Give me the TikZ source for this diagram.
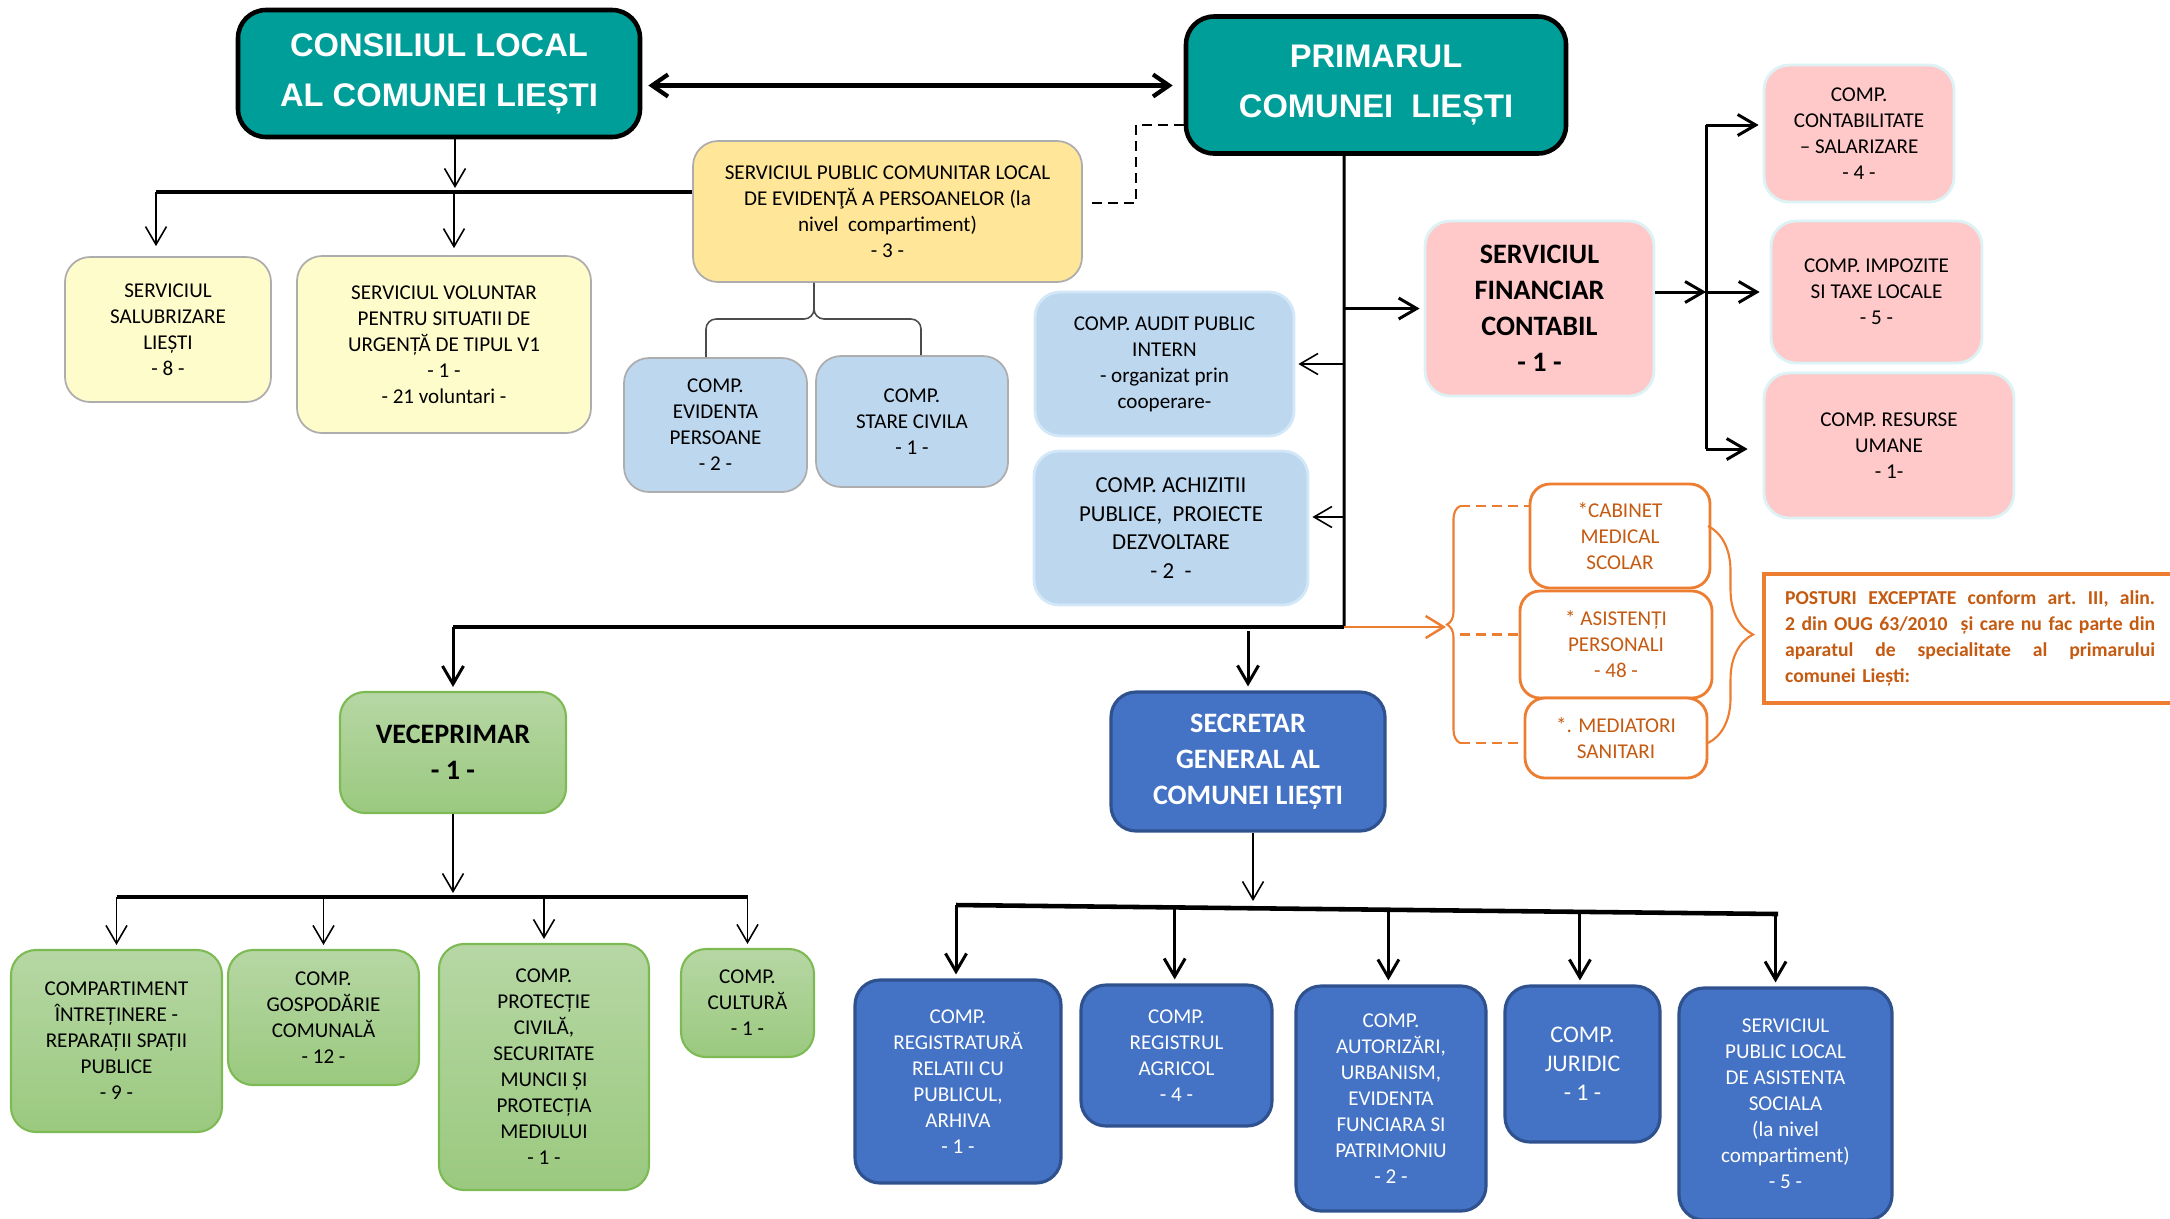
\documentclass[tikz,border=0pt]{standalone}
\usepackage{fontspec}
\setmainfont{Carlito}
\newfontfamily\headfont{Liberation Sans}
\usetikzlibrary{arrows.meta,calc,positioning,decorations.pathreplacing}
\definecolor{tealc}{RGB}{0,158,152}
\definecolor{yelc}{RGB}{255,230,153}
\definecolor{ltyelc}{RGB}{255,252,204}
\definecolor{ltbluec}{RGB}{189,215,238}
\definecolor{ltbluebd}{RGB}{210,232,248}
\definecolor{pinkc}{RGB}{255,201,201}
\definecolor{pinkbd}{RGB}{220,242,244}
\definecolor{orc}{RGB}{237,125,49}
\definecolor{ortext}{RGB}{197,90,17}
\definecolor{grtop}{RGB}{182,215,164}
\definecolor{grbot}{RGB}{155,201,127}
\definecolor{grbd}{RGB}{125,186,84}
\definecolor{bluec}{RGB}{68,114,196}
\definecolor{bluebd}{RGB}{47,82,143}
\definecolor{boxgrey}{gray}{0.68}
\newcommand{\jline}[1]{\makebox[37mm][s]{\spaceskip=.226em plus 1em\relax #1}}

\begin{document}
\begin{tikzpicture}[x=1mm,y=-1mm,font=\fontsize{6}{7.4}\selectfont]

\tikzset{every node/.style={align=center,inner sep=0.5mm},
sz/.style 2 args={minimum width=#1mm,minimum height=#2mm},
titlebox/.style={rounded corners=2.8mm,fill=tealc,draw=black,line width=1.3pt,text=white,font=\headfont\bfseries\fontsize{9.3}{14.2}\selectfont},
yelbox/.style={rounded corners=2.5mm,fill=yelc,draw=boxgrey,line width=0.5pt},
ltyelbox/.style={rounded corners=2.5mm,fill=ltyelc,draw=boxgrey,line width=0.5pt},
bluegrey/.style={rounded corners=2.5mm,fill=ltbluec,draw=boxgrey,line width=0.5pt},
bluepale/.style={rounded corners=2.5mm,fill=ltbluec,draw=ltbluebd,line width=0.8pt},
pinkbox/.style={rounded corners=2.5mm,fill=pinkc,draw=pinkbd,line width=0.8pt},
orbox/.style={rounded corners=2mm,fill=white,draw=orc,line width=0.8pt,text=ortext},
posturi/.style={draw=orc,fill=white,line width=1.2pt,text=ortext,text width=37mm,align=left,inner xsep=2.1mm,minimum height=12.9mm,font=\frenchspacing\bfseries\fontsize{5.6}{7.4}\selectfont},
grbox/.style={rounded corners=2.5mm,top color=grtop,bottom color=grbot,draw=grbd,line width=0.6pt},
bluebox/.style={rounded corners=2.5mm,fill=bluec,draw=bluebd,line width=0.9pt,text=white},
bigtxt/.style={font=\bfseries\fontsize{8}{10.2}\selectfont},
thinline/.style={line width=0.45pt},
midline/.style={line width=0.85pt},
busline/.style={line width=1.3pt},
arr/.style={-{Straight Barb[length=1.8mm,width=2.1mm]},shorten >=0.4mm},
dblarr/.style={{Straight Barb[length=1.6mm,width=2.2mm]}-{Straight Barb[length=1.6mm,width=2.2mm]},line width=1.2pt},
dsh/.style={line width=0.6pt,dash pattern=on 1mm off 0.6mm},
brk/.style={line width=0.45pt,draw=black!70,rounded corners=1mm},
orline/.style={draw=orc,line width=0.6pt},
ordash/.style={draw=orc,line width=0.7pt,dash pattern=on 1mm off 0.6mm},
orarr/.style={draw=orc,line width=0.7pt,-{Straight Barb[length=1.8mm,width=2.2mm]}}}

\useasboundingbox (0,0) rectangle (217,121.8);

% Conducere
\node[titlebox,sz={40.2}{12.7}] (consiliu) at (43.9,7.35) {CONSILIUL LOCAL\\AL COMUNEI LIEȘTI};
\node[titlebox,sz={38}{13.7}] (primar) at (137.6,8.5) {PRIMARUL\\COMUNEI~ LIEȘTI};

% Subordonate consiliului
\node[yelbox,sz={38.9}{14.1}] (spclep) at (88.75,21.15) {SERVICIUL PUBLIC COMUNITAR LOCAL\\DE EVIDENŢĂ A PERSOANELOR (la\\nivel~ compartiment)\\- 3 -};
\node[ltyelbox,sz={20.6}{14.5}] (salub) at (16.8,32.95) {SERVICIUL\\SALUBRIZARE\\LIEȘTI\\- 8 -};
\node[ltyelbox,sz={29.4}{17.7}] (voluntar) at (44.4,34.45) {SERVICIUL VOLUNTAR\\PENTRU SITUATII DE\\URGENȚĂ DE TIPUL V1\\- 1 -\\- 21 voluntari -};
\node[bluegrey,sz={18.3}{13.4}] (evid) at (71.55,42.5) {COMP.\\EVIDENTA\\PERSOANE\\- 2 -};
\node[bluegrey,sz={19.2}{13.1}] (stare) at (91.2,42.15) {COMP.\\STARE CIVILA\\- 1 -};

% Subordonate primarului
\node[bluepale,sz={25.9}{14.4}] (audit) at (116.45,36.4) {COMP. AUDIT PUBLIC\\INTERN\\- organizat prin\\cooperare-};
\node[bluepale,sz={27.4}{15.4},font=\fontsize{6.5}{8.2}\selectfont] (achiz) at (117.1,52.8) {COMP. ACHIZITII\\PUBLICE,~ PROIECTE\\DEZVOLTARE\\- 2~ -};
\node[pinkbox,bigtxt,sz={22.9}{17.5}] (finan) at (153.95,30.85) {SERVICIUL\\FINANCIAR\\CONTABIL\\- 1 -};
\node[pinkbox,sz={19}{13.7}] (contab) at (185.9,13.35) {COMP.\\CONTABILITATE\\– SALARIZARE\\- 4 -};
\node[pinkbox,sz={21.1}{14.2}] (impoz) at (187.65,29.2) {COMP. IMPOZITE\\SI TAXE LOCALE\\- 5 -};
\node[pinkbox,sz={25}{14.5}] (resurse) at (188.9,44.55) {COMP. RESURSE\\UMANE\\- 1-};

% Posturi exceptate
\node[orbox,sz={18}{10.4}] (cabinet) at (162,53.6) {*CABINET\\MEDICAL\\SCOLAR};
\node[orbox,sz={19.2}{10.7}] (asist) at (161.6,64.45) {* ASISTENȚI\\PERSONALI\\- 48 -};
\node[orbox,sz={18.2}{8}] (mediat) at (161.6,73.8) {*. MEDIATORI\\SANITARI};
\node[posturi,anchor=west] (posturi) at (176.2,63.85) {\jline{POSTURI EXCEPTATE conform art. III, alin.}\\\jline{2 din OUG 63/2010~ și care nu fac parte din}\\\jline{aparatul de specialitate al primarului}\\comunei Liești:};

% Viceprimar
\node[grbox,bigtxt,sz={22.6}{12.1}] (vice) at (45.3,75.25) {VECEPRIMAR\\- 1 -};
\node[grbox,sz={21.1}{18.2}] (intret) at (11.65,104.1) {COMPARTIMENT\\ÎNTREȚINERE -\\REPARAȚII SPAȚII\\PUBLICE\\- 9 -};
\node[grbox,sz={19.1}{13.5}] (gosp) at (32.35,101.75) {COMP.\\GOSPODĂRIE\\COMUNALĂ\\- 12 -};
\node[grbox,sz={21}{24.6}] (protectie) at (54.4,106.7) {COMP.\\PROTECȚIE\\CIVILĂ,\\SECURITATE\\MUNCII ȘI\\PROTECȚIA\\MEDIULUI\\- 1 -};
\node[grbox,sz={13.3}{10.8}] (cultura) at (74.75,100.3) {COMP.\\CULTURĂ\\- 1 -};

% Secretar general
\node[bluebox,bigtxt,sz={27.4}{13.9}] (secretar) at (124.8,76.15) {SECRETAR\\GENERAL AL\\COMUNEI LIEȘTI};
\node[bluebox,sz={20.6}{20.3}] (registr) at (95.8,108.15) {COMP.\\REGISTRATURĂ\\RELATII CU\\PUBLICUL,\\ARHIVA\\- 1 -};
\node[bluebox,sz={19.1}{14.1}] (agricol) at (117.65,105.55) {COMP.\\REGISTRUL\\AGRICOL\\- 4 -};
\node[bluebox,sz={19}{22.5}] (autoriz) at (139.1,109.85) {COMP.\\AUTORIZĂRI,\\URBANISM,\\EVIDENTA\\FUNCIARA SI\\PATRIMONIU\\- 2 -};
\node[bluebox,sz={15.5}{15.6},font=\fontsize{6.8}{8.3}\selectfont] (juridic) at (158.25,106.4) {COMP.\\JURIDIC\\- 1 -};
\node[bluebox,sz={21.3}{23.2}] (social) at (178.55,110.4) {SERVICIUL\\PUBLIC LOCAL\\DE ASISTENTA\\SOCIALA\\(la nivel\\compartiment)\\- 5 -};

% Puncte de ramificare
\coordinate (bus1) at (15.6,19.2);
\coordinate (trk) at (134.4,62.7);
\coordinate (bus2) at (45.3,62.7);
\coordinate (bus3) at (45.3,89.7);
\coordinate (bus4l) at (95.6,90.5); \coordinate (bus4r) at (177.8,91.4);
\coordinate (fbar1) at (170.6,12.5); \coordinate (fbar2) at (170.6,44.9);
\coordinate (dshc) at (113.6,20.3);
\coordinate (fork) at (81.4,31.9);
\coordinate (lbt) at (146,50.6); \coordinate (lbb) at (146,74.3);
\coordinate (rbt) at (170.8,52.6); \coordinate (rbb) at (170.8,74.3);
\coordinate (ltip) at (144.6,62.7);

% Legaturi consiliu
\draw[dblarr,shorten <=0.6mm,shorten >=1.1mm] ([yshift=-1.2mm]consiliu.east) -- ([yshift=-1.2mm]consiliu.east -| primar.west);
\draw[arr,thinline] ([xshift=1.6mm]consiliu.south) -- ([xshift=1.6mm]consiliu.south |- bus1);
\draw[busline] (bus1) -- (bus1 -| spclep.west);
\draw[arr,thinline,shorten >=1mm] (bus1) -- (bus1 |- salub.north);
\draw[arr,thinline,shorten >=0.7mm] ([xshift=1mm]bus1 -| voluntar.north) -- ([xshift=1mm]voluntar.north);
\draw[dsh] ([yshift=-4mm]primar.west) -| (dshc) -- ([xshift=0.6mm]dshc -| spclep.east);
\draw[brk] (fork |- spclep.south) -- (fork) -| ([xshift=-0.95mm]evid.north);
\draw[brk] (fork |- spclep.south) -- (fork) -| ([xshift=0.9mm]stare.north);

% Legaturi primar
\draw[midline] ([xshift=-3.2mm]primar.south) -- (trk);
\draw[busline] (trk) -- (bus2);
\draw[arr,midline] (trk |- finan.west) -- (finan.west);
\draw[arr,thinline,shorten >=0.3mm] (trk |- audit.east) -- (audit.east);
\draw[arr,thinline,shorten >=0.3mm] ([yshift=1.1mm]trk |- achiz.east) -- ([yshift=1.1mm]achiz.east);
\draw[arr,midline,shorten >=0mm] (finan.east |- impoz.west) -- (fbar1 |- impoz.west);
\draw[arr,midline,shorten >=1mm] (fbar1 |- impoz.west) -- (impoz.west);
\draw[midline] (fbar1) -- (fbar2);
\draw[arr,midline] (fbar1) -- (fbar1 -| contab.west);
\draw[arr,midline,shorten >=1.5mm] (fbar2) -- (fbar2 -| resurse.west);
\draw[orarr] (trk) -- (ltip);

% Acolade posturi exceptate
\draw[orline,decorate,decoration={brace,amplitude=1.3mm}] (lbb) -- (lbt);
\draw[orline,decorate,decoration={brace,amplitude=4.5mm}] (rbt) -- (rbb);
\draw[ordash] (lbt) -- (lbt -| cabinet.west);
\draw[ordash] ([yshift=1mm]asist.west -| lbt) -- ([yshift=1mm]asist.west);
\draw[ordash] (lbb) -- (lbb -| mediat.west);

% Viceprimar
\draw[arr,midline] (bus2) -- (vice.north);
\draw[arr,thinline] (vice.south) -- (bus3);
\draw[busline] (bus3 -| intret.north) -- (bus3 -| cultura.north);
\foreach \n in {intret,gosp,protectie,cultura}
  \draw[arr,thinline] (bus3 -| \n.north) -- (\n.north);

% Secretar general
\draw[arr,midline,shorten <=0.4mm] (trk -| secretar.north) -- (secretar.north);
\draw[arr,thinline] ([xshift=0.5mm]secretar.south) -- ([xshift=0.5mm]secretar.south |- bus4l);
\draw[busline] (bus4l) -- (bus4r);
\foreach \n/\f in {registr/0,agricol/0.266,autoriz/0.526,juridic/0.759,social/0.997}
  \draw[arr,midline] ($(bus4l)!\f!(bus4r)$) coordinate (t) -- (t |- \n.north);

\end{tikzpicture}
\end{document}
